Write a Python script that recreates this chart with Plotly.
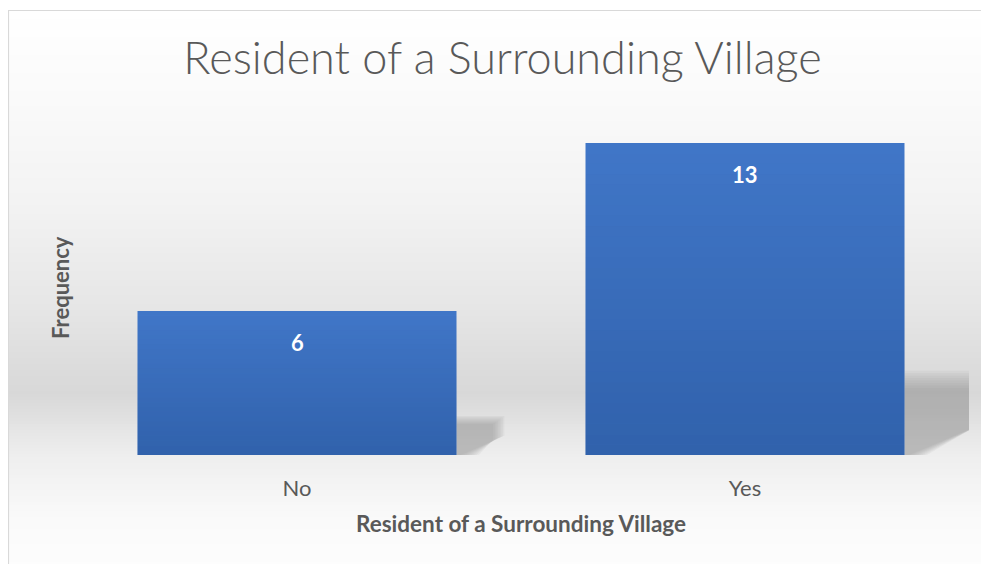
import plotly.graph_objects as go

categories = ["No", "Yes"]
values = [6, 13]
chart_title = "Resident of a Surrounding Village"
x_title = "Resident of a Surrounding Village"
y_title = "Frequency"

OFF = 8  # page body margin
W, H = 989 - OFF, 564 - OFF
# plot area in page pixels: x 73..969, y 119..455
PL, PR, PT, PB = 73, 969, 119, 455
L, T = PL - OFF, PT - OFF
R, B = W - (PR - OFF), H - (PB - OFF)
PW, PH = PR - PL, PB - PT

def px_x(p):  # page px -> paper
    return (p - PL) / PW

def px_y(p):
    return (PB - p) / PH

def hex2rgb(h):
    h = h.lstrip("#")
    return tuple(int(h[i:i + 2], 16) for i in (0, 2, 4))

stops = [(10, "#FFFFFF"), (100, "#FAFAFA"), (200, "#F3F3F3"), (300, "#E7E7E7"),
         (393, "#D8D8D8"), (455, "#EEEEEE"), (520, "#FAFAFA"), (570, "#FDFDFD")]

def col_at(y):
    for (y0, c0), (y1, c1) in zip(stops[:-1], stops[1:]):
        if y0 <= y <= y1:
            t = (y - y0) / (y1 - y0)
            a, b = hex2rgb(c0), hex2rgb(c1)
            return "rgb(%d,%d,%d)" % tuple(round(a[k] + (b[k] - a[k]) * t) for k in range(3))
    return "#FFFFFF"

shapes = []
step = 3
y = 10
while y < 566:
    y2 = y + step
    shapes.append(dict(type="rect", xref="paper", yref="paper", layer="below",
                       x0=px_x(8), x1=px_x(1000), y0=px_y(y2 + 0.5), y1=px_y(y),
                       fillcolor=col_at((y + y2) / 2), line=dict(width=0)))
    y = y2

shapes.append(dict(type="rect", xref="paper", yref="paper", layer="above",
                   x0=px_x(8.5), x1=px_x(1010), y0=px_y(580), y1=px_y(10.5),
                   fillcolor="rgba(0,0,0,0)", line=dict(color="#D9D9D9", width=1.2)))

half = 0.356
# soft perspective shadows (derived from values)
layers = 8
for i, v in enumerate(values):
    xr = i + half
    for k in range(layers):
        s = k / (layers - 1)
        top = 0.25 * v * (1.08 - 0.22 * s)
        wx = 0.017 * v * (1.05 - 0.25 * s)
        path = "M %f,0 L %f,%f L %f,%f L %f,%f L %f,0 Z" % (
            xr, xr, top, xr + wx, top, xr + wx, 0.5 * top, xr + 0.01 + 0.04 * s)
        shapes.append(dict(type="path", xref="x", yref="y", layer="below", path=path,
                           fillcolor="rgba(140,140,140,0.09)", line=dict(width=0)))

# vertical shading on bars (darker toward the base)
nb = 30
for i, v in enumerate(values):
    for k in range(nb):
        y0 = v * k / nb
        y1 = v * (k + 1) / nb
        a = 0.25 * (1 - (k + 0.5) / nb)
        shapes.append(dict(type="rect", xref="x", yref="y", layer="above",
                           x0=i - half, x1=i + half, y0=y0, y1=y1,
                           fillcolor="rgba(1,35,88,%.4f)" % a, line=dict(width=0)))

fig = go.Figure()
fig.add_trace(go.Bar(
    x=categories, y=values,
    marker=dict(color="#4177C8", line=dict(width=0)),
    hoverinfo="skip",
))

FONT = "Lato, Open Sans, sans-serif"
annotations = []
for c, v in zip(categories, values):
    annotations.append(dict(x=c, y=v, xref="x", yref="y", text="<b>%d</b>" % v,
                            showarrow=False, yshift=-31,
                            font=dict(family=FONT, size=22, color="#FFFFFF")))
# y-axis title
annotations.append(dict(x=px_x(60), y=px_y(288), xref="paper", yref="paper",
                        text="<b>" + y_title + "</b>", textangle=-90, showarrow=False,
                        xanchor="center", yanchor="middle",
                        font=dict(family=FONT, size=22, color="#595959")))

fig.update_layout(
    width=W, height=H,
    margin=dict(l=L, r=R, t=T, b=B, autoexpand=False),
    paper_bgcolor="#FFFFFF", plot_bgcolor="rgba(0,0,0,0)",
    bargap=0.288,
    showlegend=False,
    title=dict(text=chart_title, x=(502.5 - OFF) / W, xanchor="center",
               y=1 - (58 - OFF) / H, yanchor="middle",
               font=dict(family=FONT, size=45, color="#595959", weight=300)),
    xaxis=dict(range=[-0.5, 1.5], showgrid=False, zeroline=False, showline=False,
               ticks="outside", ticklen=14, tickcolor="rgba(0,0,0,0)", automargin=False,
               tickfont=dict(family=FONT, size=22, color="#595959"),
               title=dict(text="<b>" + x_title + "</b>", standoff=15,
                          font=dict(family=FONT, size=22.5, color="#595959"))),
    yaxis=dict(range=[0, 14], showgrid=False, zeroline=False, showline=False,
               showticklabels=False, ticks="", automargin=False),
    shapes=shapes,
    annotations=annotations,
)

fig.write_html("out.html")
